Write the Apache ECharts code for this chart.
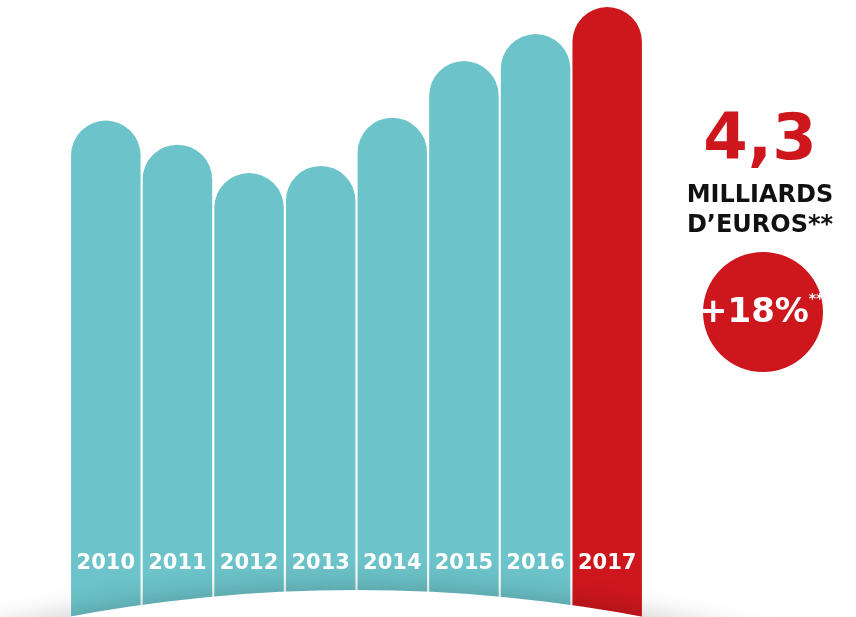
<!DOCTYPE html>
<html>
<head>
<meta charset="utf-8">
<script src="https://cdn.jsdelivr.net/npm/echarts@6/dist/echarts.min.js"></script>
<style>
  html, body { margin: 0; padding: 0; background: #fff; }
  #main { width: 856px; height: 617px; }
</style>
</head>
<body>
<div id="main"></div>
<script>
// données (milliards d'euros)
const years = ['2010', '2011', '2012', '2013', '2014', '2015', '2016', '2017']
const values = [3.5, 3.33, 3.13, 3.18, 3.52, 3.92, 4.11, 4.3]
const growth = '+18%'

const teal = '#6cc3c9'
const red = '#cd171d'
const font = '"DejaVu Sans", Verdana, sans-serif'

const chart = echarts.init(document.getElementById('main'))

const option = {
  animation: false,
  grid: { left: 70, right: 213, top: 0, bottom: 0 },
  xAxis: {
    type: 'category',
    data: years,
    show: false
  },
  yAxis: {
    type: 'value',
    min: 0,
    max: 4.35,
    show: false
  },
  series: [
    {
      type: 'bar',
      barCategoryGap: '3%',
      data: values.map((v, i) => ({
        value: v,
        itemStyle: { color: i === values.length - 1 ? red : teal }
      })),
      itemStyle: { borderRadius: [35, 35, 0, 0] },
      label: {
        show: true,
        position: 'insideBottom',
        distance: 43,
        formatter: p => p.name,
        color: '#fff',
        fontFamily: font,
        fontWeight: 'bold',
        fontSize: 21
      }
    }
  ],
  graphic: [
    // arc blanc en bas, avec ombre
    {
      type: 'circle',
      z: 100,
      shape: { cx: 356, cy: 590 + 1550, r: 1550 },
      style: {
        fill: '#fff',
        shadowBlur: 28,
        shadowColor: 'rgba(0,0,0,0.2)',
        shadowOffsetY: -3
      }
    },
    {
      type: 'text',
      z: 100,
      style: {
        x: 760, y: 142,
        text: values[values.length - 1].toFixed(1).replace('.', ','),
        fill: red,
        font: 'bold 64px ' + font,
        textAlign: 'center',
        textVerticalAlign: 'middle'
      }
    },
    {
      type: 'text',
      z: 100,
      style: {
        x: 760, y: 196,
        text: 'MILLIARDS',
        fill: '#111',
        font: 'bold 24px ' + font,
        textAlign: 'center',
        textVerticalAlign: 'middle'
      }
    },
    {
      type: 'text',
      z: 100,
      style: {
        x: 760, y: 226,
        text: 'D’EUROS**',
        fill: '#111',
        font: 'bold 24px ' + font,
        textAlign: 'center',
        textVerticalAlign: 'middle'
      }
    },
    {
      type: 'circle',
      z: 100,
      shape: { cx: 763, cy: 312, r: 60 },
      style: { fill: red }
    },
    {
      type: 'text',
      z: 101,
      style: {
        x: 754, y: 313,
        text: growth,
        fill: '#fff',
        font: 'bold 34px ' + font,
        textAlign: 'center',
        textVerticalAlign: 'middle'
      }
    },
    {
      type: 'text',
      z: 101,
      style: {
        x: 816, y: 299,
        text: '**',
        fill: '#fff',
        font: 'bold 14px ' + font,
        textAlign: 'center',
        textVerticalAlign: 'middle'
      }
    }
  ]
}

chart.setOption(option)
window.onresize = () => {
  chart.resize()
}
</script>
</body>
</html>
